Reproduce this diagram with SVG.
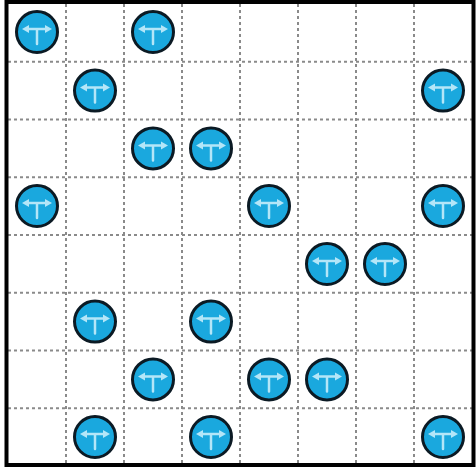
<svg xmlns="http://www.w3.org/2000/svg" width="476" height="467" viewBox="0 0 476 467">
<style>
.grid{stroke:#8a8a8a;stroke-width:2;stroke-dasharray:3 3;fill:none}
.ball{fill:#1aa8de;stroke:#0b1a24;stroke-width:3}
.sym{stroke:#b4e6f8;stroke-width:2.5;fill:none;stroke-linecap:round}
.head{fill:#b4e6f8}
</style>
<defs>
<g id="node">
<circle class="ball" r="20.5"/>
<path class="sym" d="M-10,-3H10M0,-3V12"/>
<path class="head" d="M-15,-3L-8,-7V1Z M15,-3L8,-7V1Z"/>
</g>
</defs>
<rect x="0" y="0" width="476" height="467" fill="#ffffff"/>
<g id="grid" class="grid">
<path d="M66,4V465M124,4V465M182,4V465M240,4V465M298,4V465M356,4V465M414,4V465"/>
<path d="M8,61.75H472M8,119.5H472M8,177.25H472M8,235H472M8,292.75H472M8,350.5H472M8,408.25H472"/>
</g>
<rect x="6.5" y="2" width="467" height="463" fill="none" stroke="#000" stroke-width="4"/>
<g id="n-r0c0"><use href="#node" x="37" y="32"/></g>
<g id="n-r0c2"><use href="#node" x="153" y="32"/></g>
<g id="n-r1c1"><use href="#node" x="95" y="90.6"/></g>
<g id="n-r1c7"><use href="#node" x="443" y="90.6"/></g>
<g id="n-r2c2"><use href="#node" x="153" y="148.4"/></g>
<g id="n-r2c3"><use href="#node" x="211" y="148.4"/></g>
<g id="n-r3c0"><use href="#node" x="37" y="206"/></g>
<g id="n-r3c4"><use href="#node" x="269" y="206"/></g>
<g id="n-r3c7"><use href="#node" x="443" y="206"/></g>
<g id="n-r4c5"><use href="#node" x="327" y="264"/></g>
<g id="n-r4c6"><use href="#node" x="385" y="264"/></g>
<g id="n-r5c1"><use href="#node" x="95" y="321.6"/></g>
<g id="n-r5c3"><use href="#node" x="211" y="321.6"/></g>
<g id="n-r6c2"><use href="#node" x="153" y="379.4"/></g>
<g id="n-r6c4"><use href="#node" x="269" y="379.4"/></g>
<g id="n-r6c5"><use href="#node" x="327" y="379.4"/></g>
<g id="n-r7c1"><use href="#node" x="95" y="437"/></g>
<g id="n-r7c3"><use href="#node" x="211" y="437"/></g>
<g id="n-r7c7"><use href="#node" x="443" y="437"/></g>
</svg>
